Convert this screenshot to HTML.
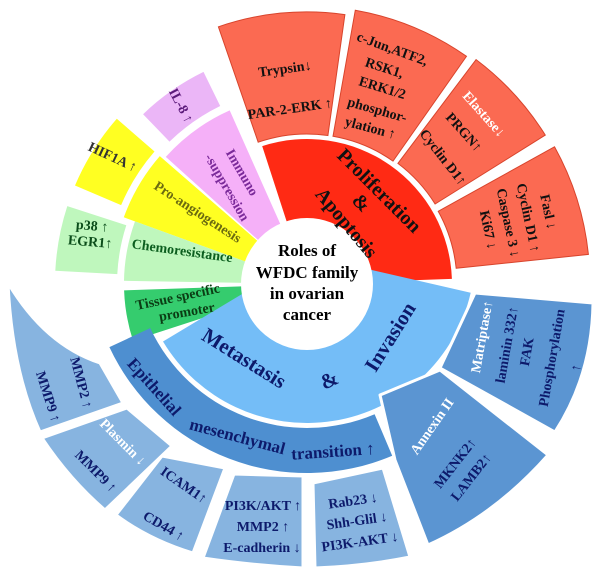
<!DOCTYPE html>
<html><head><meta charset="utf-8"><style>
html,body{margin:0;padding:0;background:#fff}
svg{display:block}
text{font-family:"Liberation Serif",serif;font-weight:bold;text-anchor:middle;dominant-baseline:middle}
</style></head><body>
<svg id="s" width="600" height="577" viewBox="0 0 600 577">
<g id="shapes"></g>
<g id="boxes" fill="#87b4e0" stroke="#fff" stroke-width="3" stroke-linejoin="round">
<path d="M8,283 Q45,345 100,363 L123,403 L40,432 Q12,370 8,283Z"/>
<path d="M42,438 L127,408 L172,446 L105,510 Q70,480 42,438Z"/>
<path d="M162,456 L225,468 L193,553 Q150,540 116,515Z"/>
<path d="M234,474 L303,476 L303,568 Q250,565 203,558Z"/>
<path d="M313,483 L383,468 L410,557 Q365,566 315,568Z"/>
<path d="M380,395 L440,370 L548,455 Q495,515 428,545 L395,460Z" fill="#5b95d2"/>
<path d="M475,293 L593,303 Q592,375 555,432 L440,368Z" fill="#5b95d2"/>
</g>
<circle cx="307" cy="284" r="64" fill="#fff" stroke="#fff" stroke-width="4"/>
<g font-size="17" fill="#000">
<text x="307" y="252">Roles of</text>
<text x="307" y="274">WFDC family</text>
<text x="307" y="295">in  ovarian</text>
<text x="307" y="316">cancer</text>
</g>
<g font-size="14" fill="#111">
<text x="285" y="70" transform="rotate(-8 285 70)">Trypsin↓</text>
<text x="290" y="110" transform="rotate(-8 290 110)">PAR-2-ERK ↑</text>
<text x="392" y="50" transform="rotate(20 392 50)">c-Jun,ATF2,</text>
<text x="384" y="69" transform="rotate(18 384 69)">RSK1,</text>
<text x="382" y="89" transform="rotate(17 382 89)">ERK1/2</text>
<text x="377" y="111" transform="rotate(16 377 111)">phosphor-</text>
<text x="370" y="129" transform="rotate(15 370 129)">ylation ↑</text>
<text x="483" y="115" fill="#fff" font-weight="normal" transform="rotate(48 483 115)">Elastase↓</text>
<text x="463" y="133" transform="rotate(48 463 133)">PRGN↑</text>
<text x="442" y="158" transform="rotate(52 442 158)">Cyclin D1↑</text>
<text x="547" y="212" transform="rotate(78 547 212)">Fasl ↓</text>
<text x="527" y="218" transform="rotate(78 527 218)">Cyclin D1 ↑</text>
<text x="507" y="223" transform="rotate(78 507 223)">Caspase 3 ↓</text>
<text x="487" y="230" transform="rotate(78 487 230)">Ki67 ↓</text>
</g>
<g font-size="20" fill="#111">
<text x="378" y="192" transform="rotate(45 378 192)">Proliferation</text>
<text x="360" y="204" transform="rotate(45 360 204)">&amp;</text>
<text x="345" y="224" transform="rotate(50 345 224)">Apoptosis</text>
</g>
<g font-size="14">
<text x="180" y="106" fill="#5b1a7a" transform="rotate(62 180 106)">IL-8 ↑</text>
<text x="241" y="173" fill="#7b2a9a" transform="rotate(60 241 173)">Immuno</text>
<text x="226" y="188" fill="#7b2a9a" transform="rotate(60 226 188)">-suppression</text>
<text x="112" y="158" fill="#333" transform="rotate(25 112 158)">HIF1A ↑</text>
<text x="197" y="213" fill="#6b6b10" transform="rotate(33 197 213)">Pro-angiogenesis</text>
<text x="92" y="227" fill="#0b4d1a" transform="rotate(5 92 227)">p38 ↑</text>
<text x="90" y="243" fill="#0b4d1a" transform="rotate(5 90 243)">EGR1↑</text>
<text x="182" y="252" fill="#0b5e1e" transform="rotate(8 182 252)">Chemoresistance</text>
<text x="178" y="298" fill="#0b3d14" transform="rotate(-12 178 298)">Tissue specific</text>
<text x="187" y="313" fill="#0b3d14" transform="rotate(-10 187 313)">promoter</text>
</g>
<g font-size="21" fill="#0d1a6b">
<text x="243" y="360" transform="rotate(32 243 360)">Metastasis</text>
<text x="330" y="382" transform="rotate(-25 330 382)">&amp;</text>
<text x="392" y="338" transform="rotate(-58 392 338)">Invasion</text>
</g>
<g font-size="17" fill="#0d1a6b">
<text x="153" y="388" transform="rotate(48 153 388)">Epithelial</text>
<text x="237" y="438" transform="rotate(15 237 438)">mesenchymal</text>
<text x="333" y="453" transform="rotate(-4 333 453)">transition ↑</text>
</g>
<g font-size="14" fill="#0d1a6b">
<text x="80" y="383" transform="rotate(75 80 383)">MMP2 ↑</text>
<text x="47" y="397" transform="rotate(72 47 397)">MMP9 ↑</text>
<text x="122" y="443" fill="#fff" font-weight="normal" transform="rotate(45 122 443)">Plasmin ↓</text>
<text x="95" y="472" transform="rotate(45 95 472)">MMP9 ↑</text>
<text x="183" y="486" transform="rotate(35 183 486)">ICAM1↑</text>
<text x="163" y="527" transform="rotate(30 163 527)">CD44 ↑</text>
<text x="263" y="507">PI3K/AKT ↑</text>
<text x="263" y="528">MMP2 ↑</text>
<text x="262" y="549">E-cadherin ↓</text>
<text x="353" y="502" transform="rotate(-8 353 502)">Rab23 ↓</text>
<text x="357" y="522" transform="rotate(-8 357 522)">Shh-Glil ↓</text>
<text x="360" y="543" transform="rotate(-8 360 543)">PI3K-AKT ↓</text>
<text x="433" y="427" fill="#fff" font-weight="normal" transform="rotate(-55 433 427)">Annexin II</text>
<text x="456" y="464" transform="rotate(-52 456 464)">MKNK2↑</text>
<text x="472" y="478" transform="rotate(-52 472 478)">LAMB2↑</text>
<text x="483" y="337" fill="#fff" font-weight="normal" transform="rotate(-80 483 337)">Matriptase↑</text>
<text x="508" y="345" transform="rotate(-80 508 345)">laminin 332↑</text>
<text x="528" y="352" transform="rotate(-80 528 352)">FAK</text>
<text x="553" y="358" transform="rotate(-80 553 358)">Phosphorylation</text>
<text x="577" y="368" transform="rotate(-80 577 368)">↑</text>
</g>
</svg>
<script>
(function(){
var g=document.getElementById('shapes');
function P(cx,cy,a,r){var t=a*Math.PI/180;return (cx+r*Math.cos(t)).toFixed(1)+','+(cy-r*Math.sin(t)).toFixed(1);}
function sec(a1,a2,r1,r2,fill,stroke,cx,cy){
 cx=cx||307;cy=cy||284;
 var large=(a2-a1)>180?1:0;
 var d='M'+P(cx,cy,a1,r1)+' L'+P(cx,cy,a1,r2)+' A'+r2+','+r2+' 0 '+large+' 0 '+P(cx,cy,a2,r2)+' L'+P(cx,cy,a2,r1)+' A'+r1+','+r1+' 0 '+large+' 1 '+P(cx,cy,a1,r1)+'Z';
 var p=document.createElementNS('http://www.w3.org/2000/svg','path');
 p.setAttribute('d',d);p.setAttribute('fill',fill);
 if(stroke){p.setAttribute('stroke',stroke);p.setAttribute('stroke-width','1');}
 g.appendChild(p);}
sec(2,108,62,145,'#ff2a14');
sec(82,109,150,272,'#fb6a52','#d8442c');
sec(55,80,150,278,'#fb6a52','#d8442c');
sec(32,53,151,281,'#fb6a52','#d8442c');
sec(6,29,150,283,'#fb6a52','#d8442c');
sec(114,138,62,190,'#f5b0f8');
sec(116,134,198,236,'#ebb6f7');
sec(139,160,62,195,'#ffff22');
sec(139,157,202,252,'#ffff22');
sec(160,179,62,183,'#bff7bd');
sec(162,177,190,252,'#bff7bd');
sec(182,198,62,183,'#35cc6e');
sec(211,347,20,168,'#74bdf7',null,307,255);
sec(205,293,173,218,'#4e8fd0',null,307,255);
})();
</script>
</body></html>
